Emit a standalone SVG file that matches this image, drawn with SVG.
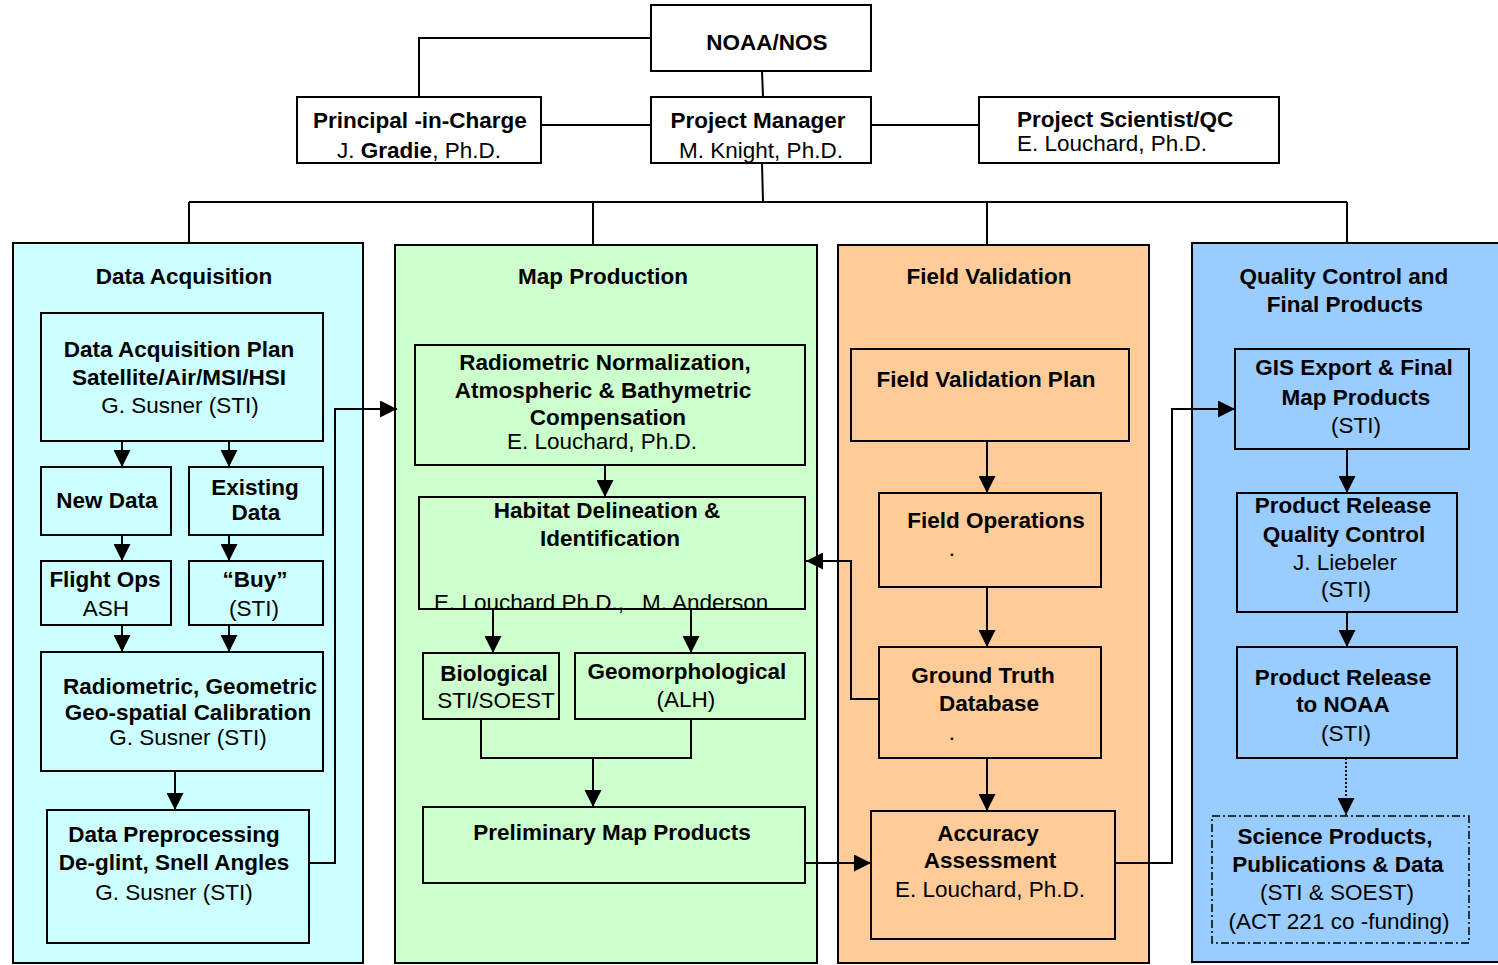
<svg xmlns="http://www.w3.org/2000/svg" width="1498" height="965" viewBox="0 0 1498 965">
<style>
.b{fill:#fff;stroke:#000;stroke-width:2}
.n{fill:none;stroke:#000;stroke-width:2}
.pa{stroke:#000;stroke-width:2}
text{font-family:"Liberation Sans",Arial,sans-serif;font-size:22.5px;fill:#000;text-anchor:middle}
.t{font-weight:bold}
.l{text-anchor:start}
.c{fill:none;stroke:#000;stroke-width:2}
.a{fill:none;stroke:#000;stroke-width:2;marker-end:url(#ah)}
</style>
<defs>
<marker id="ah" viewBox="0 0 10 10" refX="10" refY="5" markerWidth="17" markerHeight="17" markerUnits="userSpaceOnUse" orient="auto">
<path d="M0,0 L10,5 L0,10 z" fill="#000"/>
</marker>
</defs>
<rect width="1498" height="965" fill="#fff"/>

<g id="panel-da"><rect class="pa" x="13" y="243" width="350" height="720" fill="#CCFFFF"/><text class="t" x="184" y="284">Data Acquisition</text></g>
<g id="panel-mp"><rect class="pa" x="395" y="245" width="422" height="718" fill="#CCFFCC"/><text class="t" x="603" y="284">Map Production</text></g>
<g id="panel-fv"><rect class="pa" x="838" y="245" width="311" height="718" fill="#FFCC99"/><text class="t" x="989" y="284">Field Validation</text></g>
<g id="panel-qc"><rect class="pa" x="1192" y="243" width="310" height="719" fill="#99CCFF"/><text class="t" x="1344" y="284">Quality Control and</text><text class="t" x="1345" y="312">Final Products</text></g>

<g id="connectors">
<polyline class="c" points="651,38 419,38 419,97"/>
<line class="c" x1="762" y1="71" x2="763" y2="97"/>
<line class="c" x1="541" y1="125" x2="651" y2="125"/>
<line class="c" x1="871" y1="125" x2="979" y2="125"/>
<line class="c" x1="762" y1="163" x2="763" y2="202" stroke-width="1.5"/>
<line class="c" x1="189" y1="202" x2="1347" y2="202"/>
<line class="c" x1="189" y1="202" x2="189" y2="243" stroke-width="1.5"/>
<line class="c" x1="593" y1="202" x2="593" y2="245" stroke-width="1.5"/>
<line class="c" x1="987" y1="202" x2="987" y2="245" stroke-width="1.5"/>
<line class="c" x1="1347" y1="202" x2="1347" y2="243" stroke-width="1.5"/>

<line class="a" x1="122" y1="441" x2="122" y2="467"/>
<line class="a" x1="229" y1="441" x2="229" y2="467"/>
<line class="a" x1="122" y1="535" x2="122" y2="561"/>
<line class="a" x1="229" y1="535" x2="229" y2="561"/>
<line class="a" x1="122" y1="625" x2="122" y2="652"/>
<line class="a" x1="229" y1="625" x2="229" y2="652"/>
<line class="a" x1="175" y1="771" x2="175" y2="810"/>
<polyline class="a" points="309,863 335,863 335,409 397,409"/>

<line class="a" x1="605" y1="465" x2="605" y2="497"/>
<line class="a" x1="493" y1="609" x2="493" y2="653"/>
<line class="a" x1="691" y1="609" x2="691" y2="653"/>
<polyline class="c" points="481,719 481,758 691,758 691,719"/>
<line class="a" x1="593" y1="758" x2="593" y2="807"/>
<line class="a" x1="805" y1="863" x2="871" y2="863"/>

<line class="a" x1="987" y1="441" x2="987" y2="493"/>
<line class="a" x1="987" y1="587" x2="987" y2="647"/>
<line class="a" x1="987" y1="758" x2="987" y2="811"/>
<polyline class="a" points="879,699 851,699 851,561 806,561"/>
<polyline class="a" points="1115,863 1172,863 1172,409 1235,409"/>

<line class="a" x1="1347" y1="449" x2="1347" y2="493"/>
<line class="a" x1="1347" y1="612" x2="1347" y2="647"/>
<line class="a" x1="1346" y1="758" x2="1346" y2="815" stroke-dasharray="2 2"/>
</g>

<g id="noaa"><rect class="b" x="651" y="5" width="220" height="66"/><text class="t" x="767" y="50">NOAA/NOS</text></g>
<g id="pic"><rect class="b" x="297" y="97" width="244" height="66"/><text class="t" x="420" y="128">Principal -in-Charge</text><text x="419" y="158">J. <tspan class="t">Gradie</tspan>, Ph.D.</text></g>
<g id="pm"><rect class="b" x="651" y="97" width="220" height="66"/><text class="t" x="758" y="128">Project Manager</text><text x="761" y="158">M. Knight, Ph.D.</text></g>
<g id="ps"><rect class="b" x="979" y="97" width="300" height="66"/><text class="t l" x="1017" y="127">Project Scientist/QC</text><text class="l" x="1017" y="151">E. Louchard, Ph.D.</text></g>

<g id="dap"><rect class="n" x="41" y="313" width="282" height="128"/><text class="t" x="179" y="357">Data Acquisition Plan</text><text class="t" x="179" y="385">Satellite/Air/MSI/HSI</text><text x="180" y="413">G. Susner (STI)</text></g>
<g id="newdata"><rect class="n" x="41" y="467" width="130" height="68"/><text class="t" x="107" y="508">New Data</text></g>
<g id="existing"><rect class="n" x="189" y="467" width="134" height="68"/><text class="t" x="255" y="495">Existing</text><text class="t" x="256" y="520">Data</text></g>
<g id="flightops"><rect class="n" x="41" y="561" width="130" height="64"/><text class="t" x="105" y="587">Flight Ops</text><text x="106" y="616">ASH</text></g>
<g id="buy"><rect class="n" x="189" y="561" width="134" height="64"/><text class="t" x="255" y="587">“Buy”</text><text x="254" y="616">(STI)</text></g>
<g id="calib"><rect class="n" x="41" y="652" width="282" height="119"/><text class="t" x="190" y="694">Radiometric, Geometric</text><text class="t" x="188" y="720">Geo-spatial Calibration</text><text x="188" y="745">G. Susner (STI)</text></g>
<g id="preproc"><rect class="n" x="47" y="810" width="262" height="133"/><text class="t" x="174" y="842">Data Preprocessing</text><text class="t" x="174" y="870">De-glint, Snell Angles</text><text x="174" y="900">G. Susner (STI)</text></g>

<g id="radnorm"><rect class="n" x="415" y="345" width="390" height="120"/><text class="t" x="605" y="370">Radiometric Normalization,</text><text class="t" x="603" y="398">Atmospheric &amp; Bathymetric</text><text class="t" x="608" y="425">Compensation</text><text x="602" y="449">E. Louchard, Ph.D.</text></g>
<g id="habitat"><rect class="n" x="419" y="497" width="386" height="112"/><text class="t" x="607" y="518">Habitat Delineation &amp;</text><text class="t" x="610" y="546">Identification</text><text class="l" x="434" y="610">E. Louchard Ph.D.,<tspan x="642">M. Anderson</tspan></text></g>
<g id="bio"><rect class="n" x="423" y="653" width="136" height="66"/><text class="t" x="494" y="681">Biological</text><text x="496" y="708">STI/SOEST</text></g>
<g id="geo"><rect class="n" x="575" y="653" width="230" height="66"/><text class="t" x="687" y="679">Geomorphological</text><text x="686" y="707">(ALH)</text></g>
<g id="prelim"><rect class="n" x="423" y="807" width="382" height="76"/><text class="t" x="612" y="840">Preliminary Map Products</text></g>

<g id="fvplan"><rect class="n" x="851" y="349" width="278" height="92"/><text class="t" x="986" y="387">Field Validation Plan</text></g>
<g id="fieldops"><rect class="n" x="879" y="493" width="222" height="94"/><text class="t" x="996" y="528">Field Operations</text><text x="952" y="556">.</text></g>
<g id="groundtruth"><rect class="n" x="879" y="647" width="222" height="111"/><text class="t" x="983" y="683">Ground Truth</text><text class="t" x="989" y="711">Database</text><text x="952" y="740">.</text></g>
<g id="accuracy"><rect class="n" x="871" y="811" width="244" height="128"/><text class="t" x="988" y="841">Accuracy</text><text class="t" x="990" y="868">Assessment</text><text x="990" y="897">E. Louchard, Ph.D.</text></g>

<g id="gis"><rect class="n" x="1235" y="349" width="234" height="100"/><text class="t" x="1354" y="375">GIS Export &amp; Final</text><text class="t" x="1356" y="405">Map Products</text><text x="1356" y="433">(STI)</text></g>
<g id="prqc"><rect class="n" x="1237" y="493" width="220" height="119"/><text class="t" x="1343" y="513">Product Release</text><text class="t" x="1344" y="542">Quality Control</text><text x="1345" y="570">J. Liebeler</text><text x="1346" y="597">(STI)</text></g>
<g id="prnoaa"><rect class="n" x="1237" y="647" width="220" height="111"/><text class="t" x="1343" y="685">Product Release</text><text class="t" x="1343" y="712">to NOAA</text><text x="1346" y="741">(STI)</text></g>
<g id="science"><rect x="1212" y="816" width="257" height="127" fill="none" stroke="#000" stroke-width="1.5" stroke-dasharray="8 3 2 3"/><text class="t" x="1335" y="844">Science Products,</text><text class="t" x="1338" y="872">Publications &amp; Data</text><text x="1337" y="900">(STI &amp; SOEST)</text><text x="1339" y="929">(ACT 221 co -funding)</text></g>
</svg>
